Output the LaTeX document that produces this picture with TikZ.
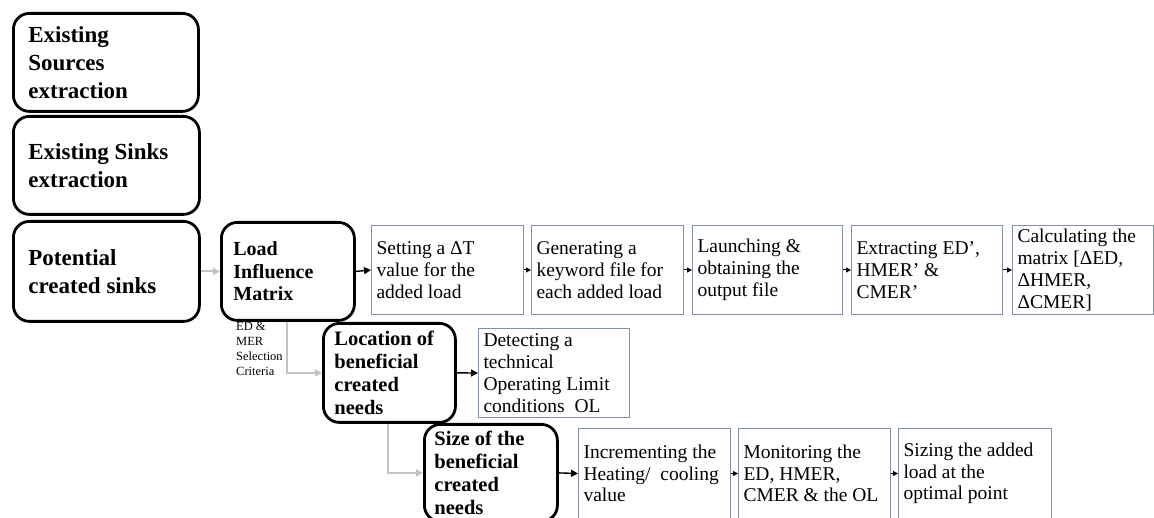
\documentclass[tikz,border=0pt]{standalone}
\usepackage{fontspec}
\setmainfont{Liberation Serif}
\usetikzlibrary{arrows.meta}
\definecolor{boxgray}{RGB}{130,145,168}
\definecolor{arrowgray}{RGB}{195,195,195}
\tikzset{
  bigbox/.style={draw=black, line width=2.8pt, rounded corners=16pt, anchor=north west,
    align=flush left, inner ysep=0pt, font=\bfseries},
  thinbox/.style={draw=boxgray, line width=1pt, anchor=north west, align=flush left,
    inner xsep=5pt, inner ysep=0pt, text width=#1-10pt, minimum height=89pt,
    font=\fontsize{19.5}{22}\selectfont},
  blackarrow/.style={line width=1.4pt, -{Triangle[length=7pt,width=7pt]}},
  smallarrow/.style={line width=1pt, -{Triangle[length=5pt,width=5pt]}},
  grayarrow/.style={draw=arrowgray, line width=1.8pt, -{Triangle[length=7pt,width=7pt]}},
}
\begin{document}
\begin{tikzpicture}[x=1pt,y=-1pt]
\useasboundingbox (0,0) rectangle (1154,518);

% thick rounded boxes
\node[bigbox, inner xsep=15pt, text width=155pt, minimum height=98pt,
  font=\bfseries\fontsize{23}{28}\selectfont] (src) at (12,12)
  {Existing\\Sources\\extraction};
\node[bigbox, inner xsep=15pt, text width=156pt, minimum height=98pt,
  font=\bfseries\fontsize{23}{28}\selectfont] (snk) at (12,115)
  {Existing Sinks\\extraction};
\node[bigbox, inner xsep=15pt, text width=156pt, minimum height=100pt,
  font=\bfseries\fontsize{23}{28}\selectfont] (pot) at (12,220)
  {Potential\\created sinks};
\node[bigbox, inner xsep=12pt, text width=109pt, minimum height=98pt,
  font=\bfseries\fontsize{20}{22.5}\selectfont] (lim) at (220,221)
  {Load\\Influence\\Matrix};
\node[bigbox, inner xsep=11pt, text width=110pt, minimum height=99pt,
  font=\bfseries\fontsize{20.5}{23}\selectfont] (loc) at (322,322)
  {Location of\\beneficial\\created\\needs};
\node[bigbox, inner xsep=10pt, text width=113pt, minimum height=97pt,
  font=\bfseries\fontsize{20.5}{23}\selectfont] (siz) at (423,423)
  {Size of the\\beneficial\\created\\needs};

% row 1 thin boxes
\node[thinbox=152pt] (a) at (371,225) {Setting a ΔT\\value for the\\added load};
\node[thinbox=152pt] (b) at (531,225) {Generating a\\keyword file for\\each added load};
\node[thinbox=150pt] (c) at (692,225) {Launching \&\\obtaining the\\output file};
\node[thinbox=151pt] (d) at (851,225) {Extracting ED’,\\HMER’ \&\\CMER’};
\node[thinbox=141pt] (e) at (1012,225) {Calculating the\\matrix [ΔED,\\ΔHMER,\\ΔCMER]};

% row 2 thin box
\node[thinbox=151pt] (det) at (478,328) {Detecting a\\technical\\Operating Limit\\conditions\ \ OL};

% row 3 thin boxes
\node[thinbox=152pt, minimum height=90pt, font=\fontsize{19.5}{21.5}\selectfont] (f) at (578,428)
  {Incrementing the\\Heating/\ \ cooling\\value};
\node[thinbox=152pt, minimum height=90pt, font=\fontsize{19.5}{21.5}\selectfont] (g) at (738,428)
  {Monitoring the\\ED, HMER,\\CMER \& the OL};
\node[thinbox=153pt, minimum height=90pt, font=\fontsize{19.5}{21.5}\selectfont] (h) at (898,428)
  {Sizing the added\\load at the\\optimal point};

% small label
\node[anchor=north west, align=flush left, inner sep=0pt, font=\fontsize{12.5}{15}\selectfont]
  (crit) at (236,322) {ED \&\\MER\\Selection\\Criteria};

% connectors
\draw[grayarrow] (pot.east) -- (lim.west);
\draw[blackarrow] (lim.east) -- (a.west);
\draw[smallarrow] (a.east) -- (b.west);
\draw[smallarrow] (b.east) -- (c.west);
\draw[smallarrow] (c.east) -- (d.west);
\draw[smallarrow] (d.east) -- (e.west);
\draw[blackarrow] (loc.east) -- (det.west);
\draw[blackarrow] (siz.east) -- (f.west);
\draw[smallarrow] (f.east) -- (g.west);
\draw[smallarrow] (g.east) -- (h.west);
\draw[grayarrow] ([xshift=67pt]lim.south west) |- (loc.west);
\draw[grayarrow] ([xshift=66pt]loc.south west) |- (siz.west);
\end{tikzpicture}
\end{document}
